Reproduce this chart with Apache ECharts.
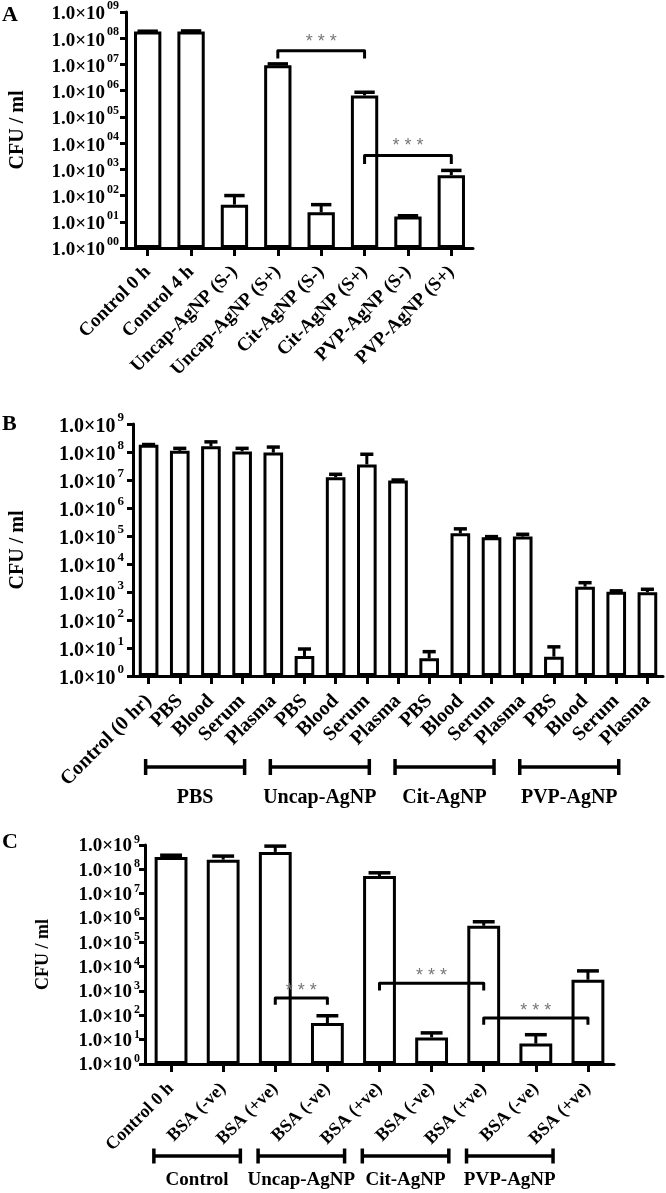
<!DOCTYPE html>
<html><head><meta charset="utf-8">
<script src="https://cdn.jsdelivr.net/npm/echarts@6/dist/echarts.min.js"></script>
<style>html,body{margin:0;padding:0;background:#fff}#c{width:666px;height:1193px}</style>
</head><body><div id="c"></div>
<script>
// ---------- Panel A ----------
const catsA = ['Control 0 h','Control 4 h','Uncap-AgNP (S-)','Uncap-AgNP (S+)','Cit-AgNP (S-)','Cit-AgNP (S+)','PVP-AgNP (S-)','PVP-AgNP (S+)'];
const meanA = [1.8e8, 1.8e8, 45, 9.3e6, 23, 6.6e5, 16, 600];
const errTopA = [1.85e8, 1.9e8, 100, 1.05e7, 45, 8.7e5, 17, 910];
// significance brackets: [fromCat, toCat, level, dropTo]
const sigA = [[3, 5, 3.3e7, 1.7e7], [5, 7, 3.4e3, 1.6e3]];

// ---------- Panel B ----------
const catsB = ['Control (0 hr)','PBS','Blood','Serum','Plasma','PBS','Blood','Serum','Plasma','PBS','Blood','Serum','Plasma','PBS','Blood','Serum','Plasma'];
const meanB = [1.8e8, 1.1e8, 1.6e8, 1.05e8, 9.5e7, 5.2, 1.25e7, 3.6e7, 9.5e6, 4.3, 1.25e5, 9.0e4, 9.5e4, 4.9, 1550, 1020, 980];
const errTopB = [1.85e8, 1.35e8, 2.3e8, 1.35e8, 1.5e8, 9.2, 1.6e7, 8.3e7, 1.0e7, 7.4, 1.8e5, 9.5e4, 1.15e5, 11, 2150, 1100, 1250];
const groupsB = [[1, 4, 'PBS'], [5, 8, 'Uncap-AgNP'], [9, 12, 'Cit-AgNP'], [13, 16, 'PVP-AgNP']];

// ---------- Panel C ----------
const catsC = ['Control 0 h','BSA (-ve)','BSA (+ve)','BSA (-ve)','BSA (+ve)','BSA (-ve)','BSA (+ve)','BSA (-ve)','BSA (+ve)'];
const meanC = [3.2e8, 2.5e8, 5.2e8, 48, 5.3e7, 12.4, 4.8e5, 6.9, 2900];
const errTopC = [3.8e8, 3.5e8, 9.0e8, 96, 7.2e7, 19, 7.0e5, 16, 6700];
const sigC = [[2, 3, 510, 270], [4, 6, 2100, 1050], [6, 8, 78, 41]];
const groupsC = [[0, 1, 'Control'], [2, 3, 'Uncap-AgNP'], [4, 5, 'Cit-AgNP'], [6, 7, 'PVP-AgNP']];

const yTicksLabelPad = [true, false, false];
const yAxisName = 'CFU / ml';
const panelLetters = ['A', 'B', 'C'];

const FONT = 'Liberation Serif';
const chart = echarts.init(document.getElementById('c'), null, {renderer: 'canvas'});

function yFmt(pad) {
  return function (v) {
    const e = Math.round(Math.log10(v));
    const s = pad ? String(e).padStart(2, '0') : String(e);
    return '{m|1.0\u00d710}{s|' + s + '}';
  };
}
function yAxis(idx, mainSize, supSize, lh, margin, nameGap, nameSize) {
  return {
    gridIndex: idx, type: 'log', logBase: 10, min: 1, max: 1e9, splitNumber: 9,
    axisLine: {show: true, lineStyle: {color: '#000', width: 3}},
    axisTick: {show: true, length: 6, lineStyle: {color: '#000', width: 3}},
    splitLine: {show: false},
    name: yAxisName, nameLocation: 'middle', nameGap: nameGap, nameRotate: 90,
    nameTextStyle: {fontFamily: FONT, fontWeight: 'bold', fontSize: nameSize, color: '#000'},
    axisLabel: {
      margin: margin, formatter: yFmt(yTicksLabelPad[idx]), showMinLabel: true, showMaxLabel: true, hideOverlap: false,
      rich: {
        m: {fontFamily: FONT, fontWeight: 'bold', fontSize: mainSize, color: '#000', lineHeight: lh, verticalAlign: 'bottom'},
        s: {fontFamily: FONT, fontWeight: 'bold', fontSize: supSize, color: '#000', lineHeight: supSize + 1, verticalAlign: 'top', padding: [0, 0, 0, 2]}
      }
    }
  };
}
function xAxis(idx, cats, fontSize, margin) {
  return {
    gridIndex: idx, type: 'category', data: cats, boundaryGap: true,
    axisLine: {show: true, lineStyle: {color: '#000', width: 3}},
    axisTick: {show: true, alignWithLabel: true, length: 8, lineStyle: {color: '#000', width: 3}},
    splitLine: {show: false},
    axisLabel: {interval: 0, rotate: 45, margin: margin, fontFamily: FONT, fontWeight: 'bold', fontSize: fontSize, color: '#000', hideOverlap: false}
  };
}
function barSeries(idx, data) {
  return {
    type: 'bar', xAxisIndex: idx, yAxisIndex: idx, data: data, barWidth: '63%', silent: true,
    itemStyle: {color: '#fff', borderColor: '#000', borderWidth: 3}
  };
}
function errSeries(idx, mean, top, capFrac) {
  return {
    type: 'custom', xAxisIndex: idx, yAxisIndex: idx, silent: true, z: 3,
    data: top.map((t, i) => [i, mean[i], t]),
    encode: {x: 0, y: [1, 2]},
    renderItem: function (params, api) {
      const x = api.value(0);
      const p0 = api.coord([x, api.value(1)]);
      const p1 = api.coord([x, api.value(2)]);
      const w = api.size([1, 0])[0] * capFrac;
      return {type: 'group', children: [
        {type: 'line', shape: {x1: p0[0], y1: p0[1], x2: p1[0], y2: p1[1]}, style: {stroke: '#000', lineWidth: 3}},
        {type: 'line', shape: {x1: p1[0] - w / 2, y1: p1[1], x2: p1[0] + w / 2, y2: p1[1]}, style: {stroke: '#000', lineWidth: 3.5}}
      ]};
    }
  };
}
function sigSeries(idx, sig, starGap) {
  return {
    type: 'custom', xAxisIndex: idx, yAxisIndex: idx, silent: true, z: 4,
    data: sig.map(s => s.slice()),
    encode: {x: [0, 1], y: [2, 3]},
    renderItem: function (params, api) {
      const a = api.coord([api.value(0), api.value(2)]);
      const b = api.coord([api.value(1), api.value(2)]);
      const d = api.coord([api.value(0), api.value(3)]);
      return {type: 'group', children: [
        {type: 'polyline', shape: {points: [[a[0], d[1]], [a[0], a[1]], [b[0], b[1]], [b[0], d[1]]]},
          style: {stroke: '#000', lineWidth: 3, fill: null, lineJoin: 'round'}},
        {type: 'text', x: (a[0] + b[0]) / 2, y: a[1] - starGap,
          style: {text: '* * *', fill: '#777', font: '18px "Liberation Sans"', textAlign: 'center', textVerticalAlign: 'middle'}}
      ]};
    }
  };
}
function groupSeries(idx, groups, dx0, dx1, off, cap, labOff, fontSize) {
  return {
    type: 'custom', xAxisIndex: idx, yAxisIndex: idx, silent: true, z: 4,
    data: groups.map(g => [g[0], 1, g[1]]),
    encode: {x: [0, 2], y: 1},
    renderItem: function (params, api) {
      const g = groups[params.dataIndex];
      const a = api.coord([api.value(0), 1]);
      const b = api.coord([api.value(2), 1]);
      const bw = api.size([1, 0])[0];
      const x0 = a[0] + dx0 * bw, x1 = b[0] + dx1 * bw, y = a[1] + off;
      return {type: 'group', children: [
        {type: 'line', shape: {x1: x0, y1: y, x2: x1, y2: y}, style: {stroke: '#000', lineWidth: 3.5}},
        {type: 'line', shape: {x1: x0, y1: y - cap, x2: x0, y2: y + cap}, style: {stroke: '#000', lineWidth: 3.5}},
        {type: 'line', shape: {x1: x1, y1: y - cap, x2: x1, y2: y + cap}, style: {stroke: '#000', lineWidth: 3.5}},
        {type: 'text', x: (x0 + x1) / 2, y: y + labOff,
          style: {text: g[2], fill: '#000', font: 'bold ' + fontSize + 'px "' + FONT + '"', textAlign: 'center', textVerticalAlign: 'middle'}}
      ]};
    }
  };
}

const letterPos = [[2, 4], [2, 413], [2, 831]];
chart.setOption({
  animation: false,
  backgroundColor: '#fff',
  grid: [
    {left: 116, top: 9, width: 357, height: 239},
    {left: 128, top: 424, width: 535, height: 252},
    {left: 145, top: 845, width: 469, height: 219}
  ],
  xAxis: [xAxis(0, catsA, 19, 21), xAxis(1, catsB, 20, 22), xAxis(2, catsC, 18, 22)],
  yAxis: [yAxis(0, 19, 12, 24, 7, 98, 20), yAxis(1, 20, 13, 26, 9, 105, 20), yAxis(2, 19, 12, 22, 5, 93, 18)],
  graphic: panelLetters.map((t, i) => ({
    type: 'text', left: letterPos[i][0], top: letterPos[i][1],
    style: {text: t, font: 'bold 22px "' + FONT + '"', fill: '#000'}
  })),
  series: [
    barSeries(0, meanA), errSeries(0, meanA, errTopA, 0.47), sigSeries(0, sigA, 9),
    barSeries(1, meanB), errSeries(1, meanB, errTopB, 0.42), groupSeries(1, groupsB, -1.095, -0.92, 91, 8, 31, 20),
    barSeries(2, meanC), errSeries(2, meanC, errTopC, 0.42), sigSeries(2, sigC, 7), groupSeries(2, groupsC, -0.33, 0.33, 92, 7.5, 24, 19)
  ]
});
</script></body></html>
